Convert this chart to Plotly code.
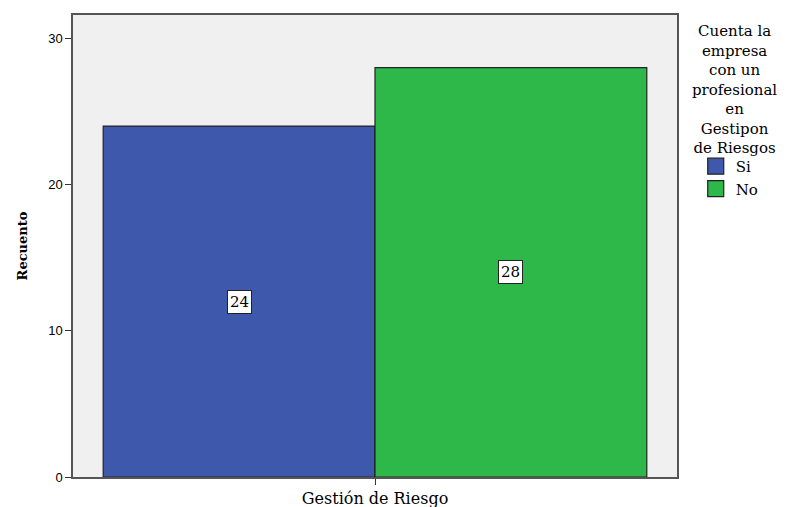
import plotly.graph_objects as go

categories = ["Gestión de Riesgo"]
series_names = ["Si", "No"]
series_values = [[24], [28]]
colors = ["#3e58ac", "#2eb84a"]
legend_title = "Cuenta la<br>empresa<br>con un<br>profesional<br>en<br>Gestipon<br>de Riesgos"

serif = "DejaVu Serif"
bargap = 0.1

fig = go.Figure()
for name, vals, col in zip(series_names, series_values, colors):
    fig.add_trace(go.Bar(x=categories, y=vals, name=name, showlegend=False,
                         marker=dict(color=col, line=dict(color="#222222", width=1.2))))
    # legend entry with a larger square swatch
    fig.add_trace(go.Scatter(x=[None], y=[None], mode="markers", name=name,
                             marker=dict(symbol="square", size=18, color=col,
                                         line=dict(color="#222222", width=1.2))))

# value labels in white boxes at the middle of each bar
n = len(series_names)
bw = (1 - bargap) / n
for i, vals in enumerate(series_values):
    for j, v in enumerate(vals):
        fig.add_annotation(x=j - (1 - bargap) / 2 + bw * (i + 0.5), y=v / 2, xref="x", yref="y",
                           text=str(v), showarrow=False,
                           font=dict(family=serif, size=15, color="black"),
                           bgcolor="white", bordercolor="#222222", borderwidth=1, borderpad=2)

fig.add_annotation(x=1.095, y=0.99, xref="paper", yref="paper", xanchor="center", yanchor="top",
                   text=legend_title, showarrow=False, align="center",
                   font=dict(family=serif, size=15, color="black"))

fig.update_layout(
    width=787, height=507,
    margin=dict(l=65, r=118, t=7, b=38),
    paper_bgcolor="white", plot_bgcolor="#f0f0f0",
    bargap=bargap, bargroupgap=0, barmode="group",
    showlegend=True,
    legend=dict(x=1.031, y=0.708, xanchor="left", yanchor="top",
                font=dict(family=serif, size=15, color="black"),
                tracegroupgap=0, itemsizing="trace", bgcolor="rgba(0,0,0,0)"),
    xaxis=dict(type="category", range=[-0.5, 0.5], showline=True, linecolor="#555555", linewidth=1.5,
               mirror=True, ticks="outside", ticklen=6, tickcolor="#333333", automargin=False,
               tickfont=dict(family=serif, size=16, color="black"), showgrid=False),
    yaxis=dict(range=[0, 31.6], tickvals=[0, 10, 20, 30], showline=True, linecolor="#555555",
               linewidth=1.5, mirror=True, ticks="outside", ticklen=6, tickcolor="#333333",
               automargin=False,
               tickfont=dict(family="Liberation Sans", size=13, color="black"), showgrid=False,
               zeroline=False,
               title=dict(text="<b>Recuento</b>", font=dict(family=serif, size=13, color="black"),
                          standoff=18)),
)

fig.write_html("out.html")
